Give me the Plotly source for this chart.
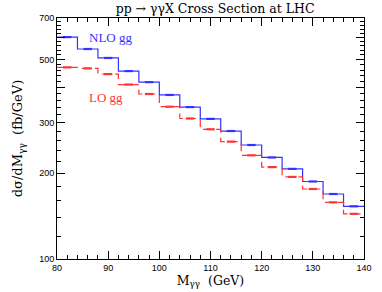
import math
import plotly.graph_objects as go

bin_edges = [80, 84, 88, 92, 96, 100, 104, 108, 112, 116, 120, 124, 128, 132, 136, 140]
nlo_gg = [600, 545, 507, 456, 417, 376, 341, 310, 281, 251, 227, 207, 187, 169, 153]
lo_gg = [470, 466, 445, 409, 379, 342, 311, 285, 258, 231, 210, 194, 176, 158, 144]

x_major = [80, 90, 100, 110, 120, 130, 140]
x_minor = [v for v in range(80, 141, 2) if v % 10 != 0]
y_major = [100, 200, 300, 400, 500, 600, 700]
y_major_text = ["100", "200", "300", "", "500", "", "700"]
y_minor = [v for v in range(100, 701, 20) if v % 100 != 0]

centers = [(a + b) / 2 for a, b in zip(bin_edges[:-1], bin_edges[1:])]

BLUE = "#3333ff"
RED = "#ff3333"

fig = go.Figure()
fig.add_trace(go.Scatter(x=bin_edges, y=nlo_gg + [nlo_gg[-1]], mode="lines",
                         line=dict(shape="hv", color=BLUE, width=1.2), hoverinfo="skip"))
fig.add_trace(go.Scatter(x=bin_edges, y=lo_gg + [lo_gg[-1]], mode="lines",
                         line=dict(shape="hv", color=RED, width=1.2, dash="8px,5px"), hoverinfo="skip"))
fig.add_trace(go.Scatter(x=centers, y=nlo_gg, mode="markers",
                         marker=dict(symbol="line-ew-open", size=6, color=BLUE, line=dict(color=BLUE, width=2.2))))
fig.add_trace(go.Scatter(x=centers, y=lo_gg, mode="markers",
                         marker=dict(symbol="line-ew-open", size=6, color=RED, line=dict(color=RED, width=2.2))))

fig.add_annotation(x=85.8, y=math.log10(600), text="NLO gg", showarrow=False, xanchor="left", yanchor="middle",
                   font=dict(family="Liberation Serif", size=13, color=BLUE))
fig.add_annotation(x=85.8, y=math.log10(368), text="LO gg", showarrow=False, xanchor="left", yanchor="middle",
                   font=dict(family="Liberation Serif", size=13, color=RED))

axis_common = dict(showline=True, linecolor="black", linewidth=1, mirror="ticks",
                   ticks="inside", tickcolor="black", showgrid=False, zeroline=False,
                   tickfont=dict(family="Liberation Sans", size=9, color="black"))

fig.update_layout(
    width=382, height=292,
    margin=dict(l=57, r=10, t=18, b=33),
    paper_bgcolor="white", plot_bgcolor="white",
    showlegend=False,
    title=dict(text="pp → γγX Cross Section at LHC", x=0.563, xanchor="center", y=0.985, yanchor="top",
               font=dict(family="DejaVu Serif", size=12.5, color="black")),
    xaxis=dict(range=[80, 140], tickmode="array", tickvals=x_major, ticklen=8,
               minor=dict(tickmode="array", tickvals=x_minor, ticklen=4, ticks="inside", tickcolor="black"),
               title=dict(text="M<sub>γγ</sub>  (GeV)", standoff=0,
                          font=dict(family="DejaVu Serif", size=12.5, color="black")),
               **axis_common),
    yaxis=dict(type="log", range=[2, 2.845098], tickmode="array", tickvals=y_major, ticktext=y_major_text,
               ticklen=8,
               minor=dict(tickmode="array", tickvals=y_minor, ticklen=4, ticks="inside", tickcolor="black"),
               title=dict(text="dσ/dM<sub>γγ</sub>  (fb/GeV)", standoff=13,
                          font=dict(family="DejaVu Serif", size=13, color="black")),
               **axis_common),
)

fig.write_html("out.html", config={"displayModeBar": False},
               post_script="document.body.style.margin='0px';")
